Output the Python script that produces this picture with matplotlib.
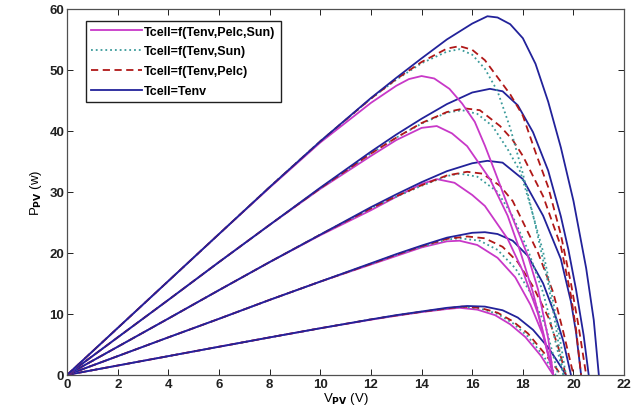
"""PV power-voltage curves for four cell temperature models at five irradiance levels."""
import matplotlib
matplotlib.use("Agg")
import matplotlib.pyplot as plt

# Power (W) vs voltage (V), one sub-list per irradiance level (lowest first)

# Tcell = Tenv
tenv_v = [
    [0, 2, 4, 6, 8, 10, 12, 13, 14, 15, 15.8, 16.5, 17.2, 17.8, 18.4, 19, 19.4, 19.7],
    [0, 2, 4, 6, 8, 10, 12, 13, 14, 15, 16, 16.5, 17, 17.6, 18.2, 18.8, 19.3, 19.6, 19.9],
    [0, 2, 4, 6, 8, 10, 12, 13, 14, 15, 16, 16.6, 17.2, 18, 18.8, 19.5, 19.9, 20.1, 20.3],
    [0, 2, 4, 6, 8, 10, 12, 13, 14, 15, 16, 16.7, 17.2, 17.8, 18.4, 19, 19.5, 19.8, 20.1, 20.4, 20.6],
    [0, 2, 4, 6, 8, 10, 12, 13, 14, 15, 16, 16.6, 17, 17.5, 18, 18.5, 19, 19.5, 20, 20.5, 20.8, 21],
]
tenv_p = [
    [0, 1.54, 3.08, 4.62, 6.15, 7.65, 9.1, 9.8, 10.4, 11.0, 11.3, 11.2, 10.6, 9.4, 7.4, 4.5, 2.0, 0],
    [0, 3.08, 6.16, 9.2, 12.3, 15.3, 18.3, 19.8, 21.2, 22.5, 23.3, 23.4, 23.1, 22.0, 19.5, 15.0, 9.5, 5.5, 0],
    [0, 4.62, 9.24, 13.9, 18.5, 23.0, 27.5, 29.6, 31.6, 33.4, 34.7, 35.1, 34.8, 32.1, 26.1, 19.0, 12.0, 7.0, 0],
    [0, 6.16, 12.3, 18.5, 24.6, 30.7, 36.6, 39.4, 42.0, 44.4, 46.3, 46.9, 46.5, 44.2, 39.8, 33.5, 26.0, 20.5, 14.0, 6.5, 0],
    [0, 7.7, 15.4, 23.1, 30.8, 38.3, 45.4, 48.7, 51.9, 55.0, 57.6, 58.8, 58.6, 57.5, 55.2, 51.0, 44.8, 37.3, 28.5, 17.5, 9.0, 0],
]

# Tcell = f(Tenv, Pelc)
pelc_v = [
    [0, 2, 4, 6, 8, 10, 12, 13, 14, 15, 15.6, 16.3, 17, 17.6, 18.2, 18.8, 19.3, 19.5],
    [0, 2, 4, 6, 8, 10, 12, 13, 14, 15, 15.8, 16.5, 17.2, 17.8, 18.4, 19, 19.4, 19.7],
    [0, 2, 4, 6, 8, 10, 12, 13, 14, 15, 15.8, 16.4, 17.1, 17.6, 18, 18.6, 19.2, 19.6, 20],
    [0, 2, 4, 6, 8, 10, 12, 13, 14, 15, 15.7, 16.3, 17.1, 17.6, 18, 18.8, 19.5, 19.9, 20.1, 20.3],
    [0, 2, 4, 6, 8, 10, 12, 13, 14, 15, 15.5, 16, 16.5, 17, 17.5, 18, 18.5, 19, 19.5, 19.9, 20.2, 20.5],
]
pelc_p = [
    [0, 1.54, 3.08, 4.62, 6.15, 7.65, 9.1, 9.75, 10.35, 10.9, 11.2, 11.0, 10.2, 8.8, 6.8, 3.8, 1.2, 0],
    [0, 3.08, 6.16, 9.2, 12.3, 15.3, 18.2, 19.7, 21.1, 22.3, 22.7, 22.4, 21.0, 18.5, 14.5, 9.5, 4.5, 0],
    [0, 4.62, 9.24, 13.9, 18.5, 23.0, 27.3, 29.3, 31.1, 32.7, 33.3, 33.0, 31.0, 28.5, 25.1, 20.0, 13.5, 7.0, 0],
    [0, 6.16, 12.3, 18.5, 24.6, 30.6, 36.3, 38.9, 41.3, 43.1, 43.7, 43.4, 40.8, 38.5, 35.9, 29.3, 21.1, 13.0, 7.5, 0],
    [0, 7.7, 15.4, 23.1, 30.8, 38.3, 45.3, 48.5, 51.3, 53.5, 53.9, 53.3, 51.6, 48.8, 46.0, 42.5, 36.5, 30.8, 23.0, 15.0, 8.0, 0],
]

# Tcell = f(Tenv, Sun)
sun_v = [
    [0, 2, 4, 6, 8, 10, 12, 13, 14, 15, 15.6, 16.3, 17, 17.6, 18.2, 18.8, 19.3],
    [0, 2, 4, 6, 8, 10, 12, 13, 14, 15, 15.5, 16.3, 17, 17.7, 18.3, 18.9, 19.4],
    [0, 2, 4, 6, 8, 10, 12, 13, 14, 15, 15.5, 16.2, 17, 17.6, 18.2, 18.8, 19.2, 19.6],
    [0, 2, 4, 6, 8, 10, 12, 13, 14, 15, 15.6, 16.2, 16.8, 17.4, 17.9, 18.3, 18.8, 19.2, 19.5, 19.7],
    [0, 2, 4, 6, 8, 10, 12, 13, 14, 15, 15.5, 16, 16.5, 17, 17.5, 18, 18.5, 19, 19.3, 19.6],
]
sun_p = [
    [0, 1.54, 3.08, 4.62, 6.15, 7.65, 9.1, 9.75, 10.35, 10.9, 11.15, 10.9, 10.0, 8.5, 6.3, 3.2, 0],
    [0, 3.08, 6.16, 9.2, 12.3, 15.3, 18.2, 19.7, 21.0, 22.2, 22.4, 22.0, 20.5, 17.5, 13.5, 8.0, 0],
    [0, 4.62, 9.24, 13.9, 18.5, 23.0, 27.3, 29.2, 31.0, 32.6, 33.0, 32.5, 30.0, 26.0, 20.5, 13.5, 7.0, 0],
    [0, 6.16, 12.3, 18.5, 24.6, 30.6, 36.3, 38.9, 41.2, 43.0, 43.4, 42.8, 40.8, 37.0, 33.3, 27.7, 20.2, 12.0, 5.0, 0],
    [0, 7.7, 15.4, 23.1, 30.8, 38.3, 45.3, 48.4, 51.1, 53.0, 53.4, 52.5, 50.2, 46.5, 40.5, 33.0, 24.5, 15.0, 8.0, 0],
]

# Tcell = f(Tenv, Pelc, Sun)
full_v = [
    [0, 2, 4, 6, 8, 10, 12, 13, 14, 15, 15.5, 16.2, 16.9, 17.5, 18.1, 18.7, 19.2],
    [0, 2, 4, 6, 8, 10, 12, 13, 14, 15, 15.5, 16.2, 17, 17.7, 18.3, 18.8, 19.2],
    [0, 2, 4, 6, 8, 10, 12, 13, 14, 14.6, 15.3, 16, 16.5, 17.4, 18, 18.6, 19.2],
    [0, 2, 4, 6, 8, 10, 12, 13, 14, 14.6, 15.2, 15.8, 16.7, 17.4, 17.9, 18.4, 18.8, 19.2],
    [0, 2, 4, 6, 8, 10, 12, 13, 13.5, 14, 14.5, 15.1, 15.6, 16.1, 16.5, 16.9, 17.5, 18.2, 18.6, 19, 19.2],
]
full_p = [
    [0, 1.54, 3.08, 4.62, 6.15, 7.65, 9.05, 9.7, 10.3, 10.8, 11.0, 10.7, 9.8, 8.3, 6.2, 3.2, 0],
    [0, 3.08, 6.16, 9.2, 12.3, 15.3, 18.1, 19.5, 20.9, 21.9, 22.0, 21.3, 19.2, 16.0, 11.5, 6.5, 0],
    [0, 4.62, 9.24, 13.9, 18.5, 22.9, 27.0, 29.2, 31.3, 32.1, 31.5, 29.5, 27.7, 22.3, 17.0, 10.0, 0],
    [0, 6.16, 12.3, 18.5, 24.6, 30.5, 35.9, 38.5, 40.5, 40.8, 39.6, 37.5, 32.1, 26.1, 20.2, 13.5, 7.0, 0],
    [0, 7.7, 15.4, 23.1, 30.7, 38.1, 44.6, 47.4, 48.5, 49.0, 48.6, 46.9, 44.5, 41.5, 37.6, 33.3, 26.7, 19.5, 14.0, 6.0, 0],
]

labels = ["Tcell=f(Tenv,Pelc,Sun)", "Tcell=f(Tenv,Sun)", "Tcell=f(Tenv,Pelc)", "Tcell=Tenv"]

plt.rcParams["font.family"] = ["Liberation Sans", "DejaVu Sans"]
plt.rcParams["font.weight"] = "bold"
plt.rcParams["mathtext.default"] = "bf"

fig = plt.figure(figsize=(6.33, 4.14), dpi=100)
ax = fig.add_axes([0.106, 0.092, 0.880, 0.884])

lw = 1.3
handles = []
for i in range(5):
    h1, = ax.plot(full_v[i], full_p[i], color="#c838c8", lw=lw, ls="-")
    h2, = ax.plot(sun_v[i], sun_p[i], color="#3a9a9a", lw=lw, ls=":")
    h3, = ax.plot(pelc_v[i], pelc_p[i], color="#b01818", lw=lw, ls=(0, (4, 2.5)))
    h4, = ax.plot(tenv_v[i], tenv_p[i], color="#22229a", lw=lw, ls="-")
    if i == 0:
        handles = [h1, h2, h3, h4]

ax.set_xlim(0, 22)
ax.set_ylim(0, 60)
ax.set_xticks(range(0, 23, 2))
ax.set_yticks(range(0, 61, 10))
ax.tick_params(direction="in", top=True, right=True, length=4, width=0.7,
               labelsize=9.5, colors="#202020", pad=2)
for s in ax.spines.values():
    s.set_color("#505050")
    s.set_linewidth(0.9)

ax.set_xlabel("V$_{PV}$ (V)", fontsize=9.5, labelpad=0)
ax.set_ylabel("P$_{PV}$ (w)", fontsize=9.5, labelpad=4)

leg = ax.legend(handles, labels, loc="upper left", bbox_to_anchor=(0.022, 0.985),
                fontsize=9, handlelength=4.1, handletextpad=0.2, borderpad=0.4,
                labelspacing=0.62, fancybox=False, framealpha=1)
leg.get_frame().set_edgecolor("#202020")
leg.get_frame().set_linewidth(1.0)

fig.savefig("out.png", dpi=100)
